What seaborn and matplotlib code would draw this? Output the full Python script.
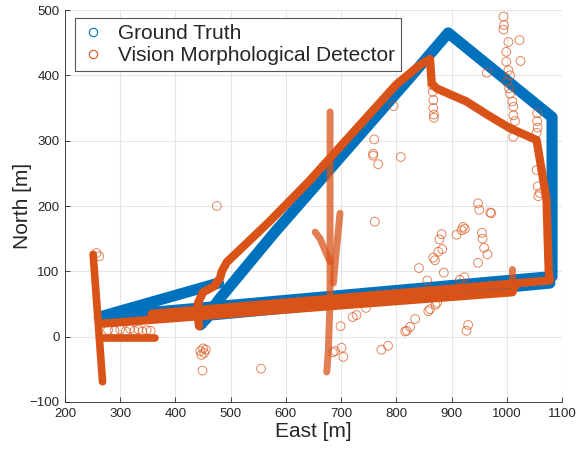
import numpy as np
import pandas as pd
import matplotlib
matplotlib.use("Agg")
import matplotlib.pyplot as plt
import seaborn as sns
from matplotlib.lines import Line2D

BLUE = "#0072BD"
ORANGE = "#D95319"

# ---------------- data ----------------
# Ground truth trajectory (one continuous path)
gt_east = [478, 262, 1082, 1082, 894, 822, 580, 480, 445, 462, 1078]
gt_north = [82, 30, 92, 336, 465, 394, 160, 58, 18, 33, 82]

# Detector: main continuous track
det_main_east = [443, 440, 441, 450, 470, 481, 484, 493, 570, 642, 800, 843, 861, 864, 873,
                 927, 970, 1006, 1054, 1072, 1076, 1078, 357]
det_main_north = [16, 35, 52, 68, 77, 90, 100, 114, 176, 238, 386, 416, 425, 388, 380,
                  360, 337, 319, 301, 210, 100, 86, 35]
# Detector: lower parallel pass
det_low_east = [268, 1010, 1014]
det_low_north = [20, 68, 76]
# Detector: left vertical and short horizontal pieces
det_left_east = [251, 268]
det_left_north = [126, -69]
det_horiz_east = [269, 363]
det_horiz_north = [-2, -2]
# Detector: stacked vertical runs of detections
det_col1_east = [680, 680, 680, 677, 674]
det_col1_north = [344, 200, 56, -20, -54]
det_col2_east = [698, 690, 686]
det_col2_north = [189, 120, 82]
det_col3_east = [653, 662, 672, 680]
det_col3_north = [160, 150, 130, 115]
det_col4_east = [1009, 1009]
det_col4_north = [88, 104]

# Detector: isolated detections
out_east = [994, 994, 995, 1003, 1023, 999, 1025, 999, 1003, 1006, 964, 1000, 1004, 1006,
            1010, 1012, 1012, 1015, 1012, 1055, 1055, 1056, 1054, 1054, 1056, 1060, 1057,
            795, 760, 758, 758, 767, 808, 867, 867, 868, 868, 865, 866,
            761, 948, 950, 970, 972, 921, 924, 918, 909, 882, 878, 883, 876, 867, 870,
            955, 956, 959, 965, 948, 841, 856, 886, 923, 915, 874, 871, 861, 858, 834,
            825, 819, 816, 930, 927, 773, 785, 699, 701, 704, 721, 728, 745, 685, 689,
            450, 445, 452, 447, 455, 449, 555, 257, 262, 475,
            278, 290, 300, 310, 318, 326, 333, 340, 348, 355]
out_north = [490, 470, 477, 451, 454, 436, 422, 421, 408, 400, 404, 390, 380, 372,
             360, 352, 339, 330, 306, 342, 330, 320, 312, 255, 230, 220, 215,
             353, 302, 280, 277, 264, 275, 362, 350, 340, 335, 385, 375,
             176, 204, 194, 190, 189, 168, 165, 163, 156, 157, 149, 134, 130, 121, 117,
             159, 150, 136, 126, 113, 105, 86, 98, 91, 87, 52, 49, 42, 39, 27,
             15, 9, 8, 18, 9, -20, -14, 16, -17, -31, 30, 33, 44, -24, -22,
             -18, -22, -25, -28, -20, -52, -49, 128, 123, 200,
             10, 9, 11, 8, 12, 9, 11, 8, 10, 9]

x_ticks = [200, 300, 400, 500, 600, 700, 800, 900, 1000, 1100]
y_ticks = [-100, 0, 100, 200, 300, 400, 500]

# ---------------- plotting ----------------
sns.set_theme(style="white")
plt.rcParams["font.family"] = ["Liberation Sans", "DejaVu Sans"]

fig = plt.figure(figsize=(5.84, 4.5), dpi=100)
ax = fig.add_axes([0.1113, 0.1067, 0.851, 0.871])


def track(e, n, color, lw, alpha=1.0, z=2):
    df = pd.DataFrame({"East": e, "North": n})
    sns.lineplot(data=df, x="East", y="North", sort=False, estimator=None,
                 color=color, linewidth=lw, alpha=alpha, ax=ax, zorder=z,
                 legend=False, solid_capstyle="round", solid_joinstyle="round")


track(gt_east, gt_north, BLUE, 8.0, z=2)
track(det_main_east, det_main_north, ORANGE, 6.0, z=3)
track(det_low_east, det_low_north, ORANGE, 6.0, z=3)
track(det_left_east, det_left_north, ORANGE, 5.5, z=3)
track(det_horiz_east, det_horiz_north, ORANGE, 5.5, z=3)
for ce, cn in [(det_col1_east, det_col1_north), (det_col2_east, det_col2_north),
               (det_col3_east, det_col3_north), (det_col4_east, det_col4_north)]:
    track(ce, cn, ORANGE, 5.0, alpha=0.75, z=3)

out_df = pd.DataFrame({"East": out_east, "North": out_north})
sns.scatterplot(data=out_df, x="East", y="North", ax=ax, marker="o", s=40,
                facecolors="none", edgecolor=ORANGE, linewidth=0.7, alpha=0.7,
                zorder=4, legend=False)

ax.set_xlim(200, 1100)
ax.set_ylim(-100, 500)
ax.set_xticks(x_ticks)
ax.set_yticks(y_ticks)
ax.grid(True, color="#e6e6e6", linewidth=0.8)
ax.set_axisbelow(True)
for s in ["top", "right"]:
    ax.spines[s].set_visible(False)
for s in ["left", "bottom"]:
    ax.spines[s].set_color("#262626")
    ax.spines[s].set_linewidth(0.6)
ax.tick_params(direction="in", length=3.5, width=0.6, colors="#262626",
               labelsize=9.5, bottom=True, left=True, pad=4)
ax.set_xlabel("East [m]", fontsize=15, color="#262626", labelpad=2)
ax.set_ylabel("North [m]", fontsize=15, color="#262626")
ax.yaxis.set_label_coords(-0.066, 0.5)

handles = [Line2D([], [], linestyle="none", marker="o", markersize=6,
                  markerfacecolor="none", markeredgecolor=BLUE, markeredgewidth=0.8),
           Line2D([], [], linestyle="none", marker="o", markersize=6,
                  markerfacecolor="none", markeredgecolor=ORANGE, markeredgewidth=0.8)]
leg = ax.legend(handles, ["Ground Truth", "Vision Morphological Detector"],
                loc="upper left", bbox_to_anchor=(0.02, 0.98), borderaxespad=0,
                fontsize=15, frameon=True, fancybox=False, framealpha=1,
                edgecolor="#555555", handletextpad=0.65, labelspacing=0.15,
                borderpad=0.3, handlelength=1.1)
leg.get_frame().set_linewidth(0.8)

fig.savefig("out.png", dpi=100)
